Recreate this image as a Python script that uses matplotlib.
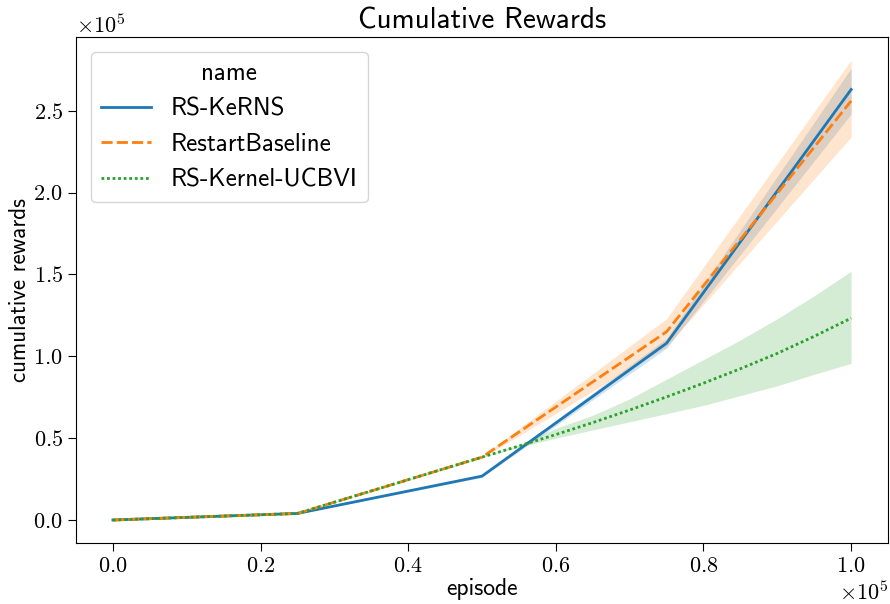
import numpy as np
import matplotlib
matplotlib.use("Agg")
import matplotlib.pyplot as plt
from matplotlib.ticker import ScalarFormatter

plt.rcParams['mathtext.fontset'] = 'cm'
plt.rcParams['font.family'] = ['cmr10', 'DejaVu Serif']
plt.rcParams['axes.formatter.use_mathtext'] = True
SANS = ['cmss10', 'DejaVu Sans']

names = ["RS-KeRNS", "RestartBaseline", "RS-Kernel-UCBVI"]

# episodes for the two restart methods
ep = [0, 25000, 50000, 75000, 100000]
kerns_mean = [0, 4000, 26800, 108000, 263000]
kerns_lo = [0, 3800, 26000, 105000, 248000]
kerns_hi = [0, 4200, 27600, 111000, 276000]
base_mean = [0, 4000, 38400, 115000, 256000]
base_lo = [0, 3800, 37800, 106000, 234000]
base_hi = [0, 4200, 39000, 123000, 281000]

# finer grid for kernel-UCBVI
ep_ucb = [0, 25000, 50000, 55000, 60000, 65000, 70000, 75000, 80000, 85000, 90000, 95000, 100000]
ucb_mean = [0, 4000, 38400, 45200, 52200, 59500, 67200, 75200, 83600, 92400, 101800, 112200, 123300]
ucb_lo = [0, 3800, 38200, 44500, 50000, 55000, 60000, 65000, 70000, 76000, 82000, 89000, 95700]
ucb_hi = [0, 4200, 38600, 46000, 56000, 64000, 74000, 86000, 98000, 110000, 123000, 137000, 152000]

colors = ['#1f77b4', '#ff7f0e', '#2ca02c']
styles = ['-', (0, (4, 1.5)), (0, (1, 1))]

fig = plt.figure(figsize=(8.9, 6.04), dpi=100)
ax = fig.add_axes([0.0854, 0.101, 0.9124, 0.8377])

series = [
    (ep, kerns_mean, kerns_lo, kerns_hi),
    (ep, base_mean, base_lo, base_hi),
    (ep_ucb, ucb_mean, ucb_lo, ucb_hi),
]
for (x, m, lo, hi), name, c, ls in zip(series, names, colors, styles):
    ax.plot(x, m, color=c, linestyle=ls, lw=2, label=name)
    ax.fill_between(x, lo, hi, color=c, alpha=0.2, lw=0)

for axis in (ax.xaxis, ax.yaxis):
    fmt = ScalarFormatter(useMathText=True)
    fmt.set_powerlimits((0, 0))
    axis.set_major_formatter(fmt)
ax.set_xticks([0, 20000, 40000, 60000, 80000, 100000])
ax.set_yticks([0, 50000, 100000, 150000, 200000, 250000])
ax.tick_params(labelsize=16, length=6)
ax.xaxis.get_offset_text().set_fontsize(16)
ax.yaxis.get_offset_text().set_fontsize(16)

ax.set_title("Cumulative Rewards", fontsize=21, family=SANS)
ax.set_xlabel("episode", fontsize=17, family=SANS, labelpad=2)
ax.set_ylabel("cumulative rewards", fontsize=16.5, family=SANS, labelpad=2)

leg = ax.legend(title="name", loc='upper left', prop={'family': SANS, 'size': 18},
                handlelength=2.0, borderaxespad=0.6)
leg.get_title().set_fontfamily(SANS)
leg.get_title().set_fontsize(18)

fig.savefig("out.png", dpi=100)
